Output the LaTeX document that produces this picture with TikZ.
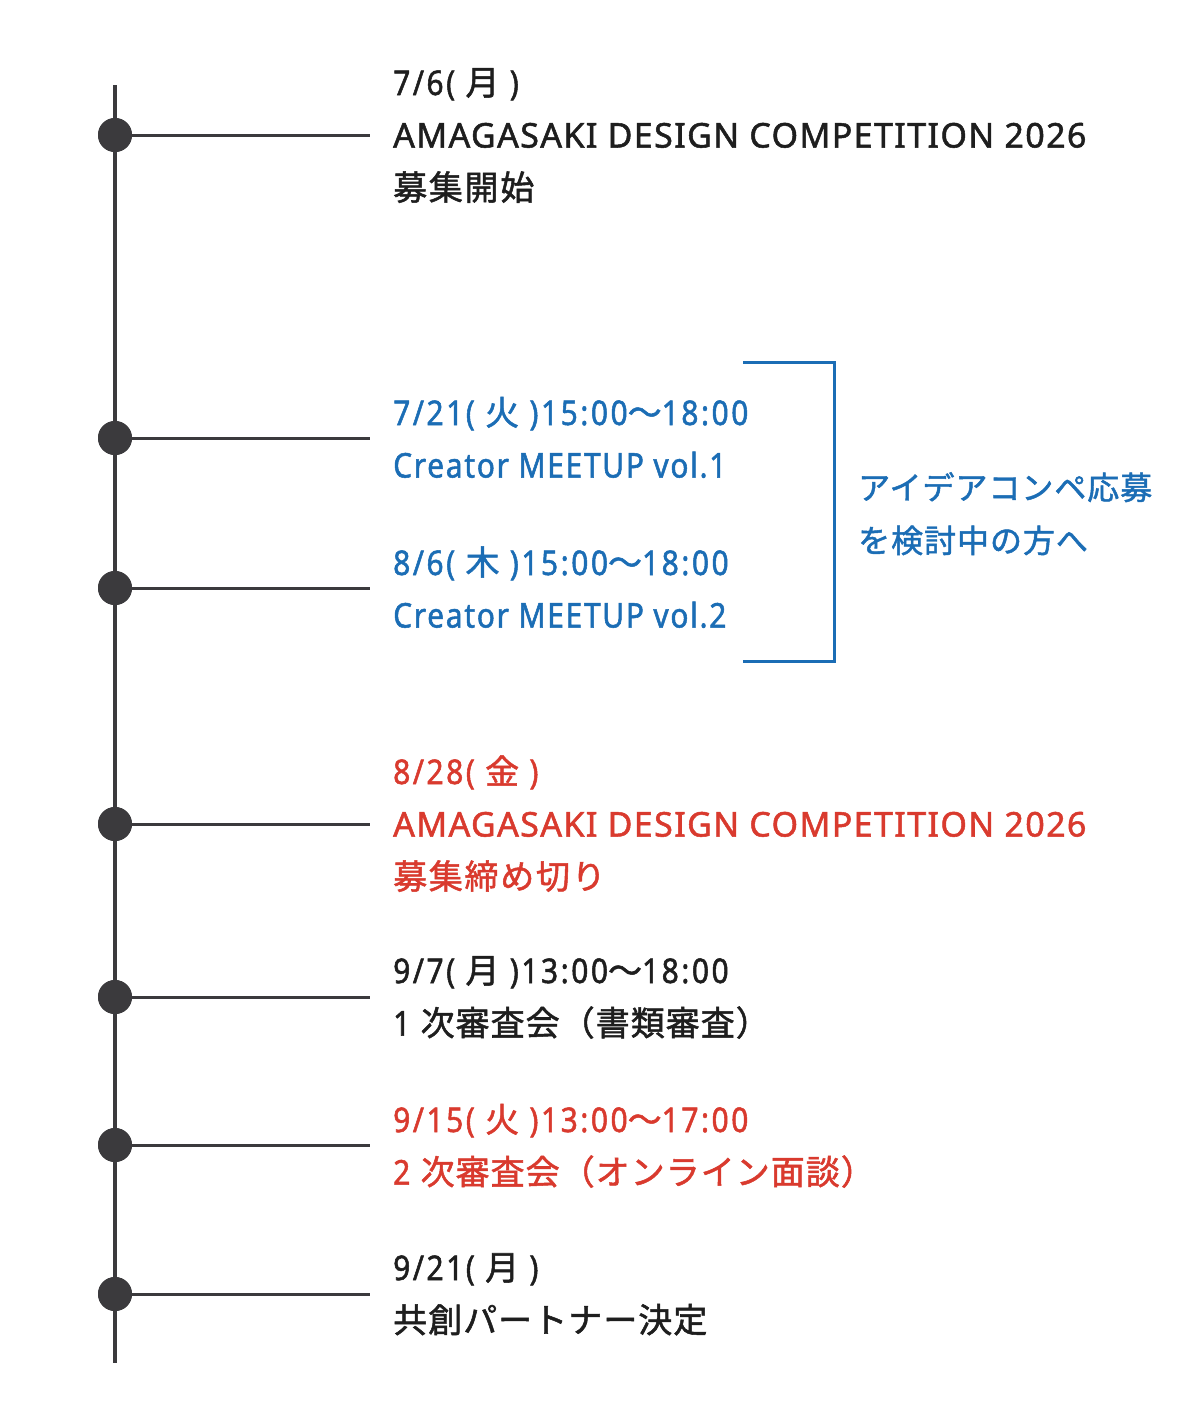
\documentclass[tikz,border=0pt]{standalone}
\usepackage{fontspec}
\setmainfont{Noto Sans}[FakeStretch=0.88,LetterSpace=7.5,FakeBold=1.5]
\newfontfamily\widefont{Noto Sans}[LetterSpace=4.1,FakeBold=1.5]
\newfontfamily\narrowfont{Noto Sans}[FakeStretch=0.88,LetterSpace=5,FakeBold=1.5]
\newfontfamily\jp{Noto Sans CJK JP}[LetterSpace=5,FakeBold=1.5]
\newfontfamily\jpb{Noto Sans CJK JP}[LetterSpace=3,FakeBold=1.5]
\definecolor{tlgray}{HTML}{3B3A3D}
\definecolor{txtblack}{HTML}{1E1E1E}
\definecolor{tlblue}{HTML}{1B6DB5}
\definecolor{tlred}{HTML}{D93A2E}
\tikzset{
  evline/.style={inner sep=0pt,anchor=base west,font=\fontsize{34}{40}\selectfont},
  bktext/.style={inner sep=0pt,anchor=base west,font=\fontsize{32}{40}\selectfont},
  dot/.style={circle,fill=tlgray,minimum size=34pt,inner sep=0pt},
  spine/.style={draw=tlgray,line width=4pt},
  tick/.style={draw=tlgray,line width=3pt},
  bracket/.style={draw=tlblue,line width=3pt},
}
\begin{document}
\begin{tikzpicture}[x=1pt,y=-1pt]
\useasboundingbox (0,0) rectangle (1200,1428);
\fill[white] (0,0) rectangle (1200,1428);
% spine
\coordinate (top) at (115,85);
\coordinate (bot) at (115,1363);
\draw[spine] (top) -- (bot);
% dots and ticks
\foreach \n/\y in {1/135,2/438,3/588,4/824,5/997,6/1145,7/1294}{
  \node[dot] (d\n) at (115,\y) {};
  \coordinate (t\n) at (370,\y);
  \draw[tick] (d\n.center) -- (t\n);
  \node[dot] at (d\n) {};
}
% event 1
\node[evline,text=txtblack] (e1a) at (393,95) {7/6( {\jp 月} )};
\node[evline,text=txtblack] (e1b) at (393,147.5) {\widefont AMAGASAKI DESIGN COMPETITION 2026};
\node[evline,text=txtblack] (e1c) at (393,200) {\jp 募集開始};
% event 2
\node[evline,text=tlblue] (e2a) at (393,425) {7/21( {\jp 火} )15:00{\jp ～}18:00};
\node[evline,text=tlblue] (e2b) at (393,477.5) {\narrowfont Creator MEETUP vol.1};
% event 3
\node[evline,text=tlblue] (e3a) at (393,575) {8/6( {\jp 木} )15:00{\jp ～}18:00};
\node[evline,text=tlblue] (e3b) at (393,627.5) {\narrowfont Creator MEETUP vol.2};
% bracket
\coordinate (bk1) at (743,362);
\coordinate (bk2) at (834,362);
\coordinate (bk3) at (834,661);
\coordinate (bk4) at (743,661);
\draw[bracket] (bk1) -- (bk2) -- (bk3) -- (bk4);
\node[bktext,text=tlblue] (bt1) at (858,499.5) {\jpb アイデアコンペ応募};
\node[bktext,text=tlblue] (bt2) at (858,552.5) {\jpb を検討中の方へ};
% event 4
\node[evline,text=tlred] (e4a) at (393,784) {8/28( {\jp 金} )};
\node[evline,text=tlred] (e4b) at (393,836.5) {\widefont AMAGASAKI DESIGN COMPETITION 2026};
\node[evline,text=tlred] (e4c) at (393,889) {\jp 募集締め切り};
% event 5
\node[evline,text=txtblack] (e5a) at (393,983) {9/7( {\jp 月} )13:00{\jp ～}18:00};
\node[evline,text=txtblack] (e5b) at (393,1035.5) {1 {\jpb 次審査会（書類審査）}};
% event 6
\node[evline,text=tlred] (e6a) at (393,1132) {9/15( {\jp 火} )13:00{\jp ～}17:00};
\node[evline,text=tlred] (e6b) at (393,1184.5) {2 {\jpb 次審査会（オンライン面談）}};
% event 7
\node[evline,text=txtblack] (e7a) at (393,1280) {9/21( {\jp 月} )};
\node[evline,text=txtblack] (e7b) at (393,1332.5) {\jpb 共創パートナー決定};
\end{tikzpicture}
\end{document}
